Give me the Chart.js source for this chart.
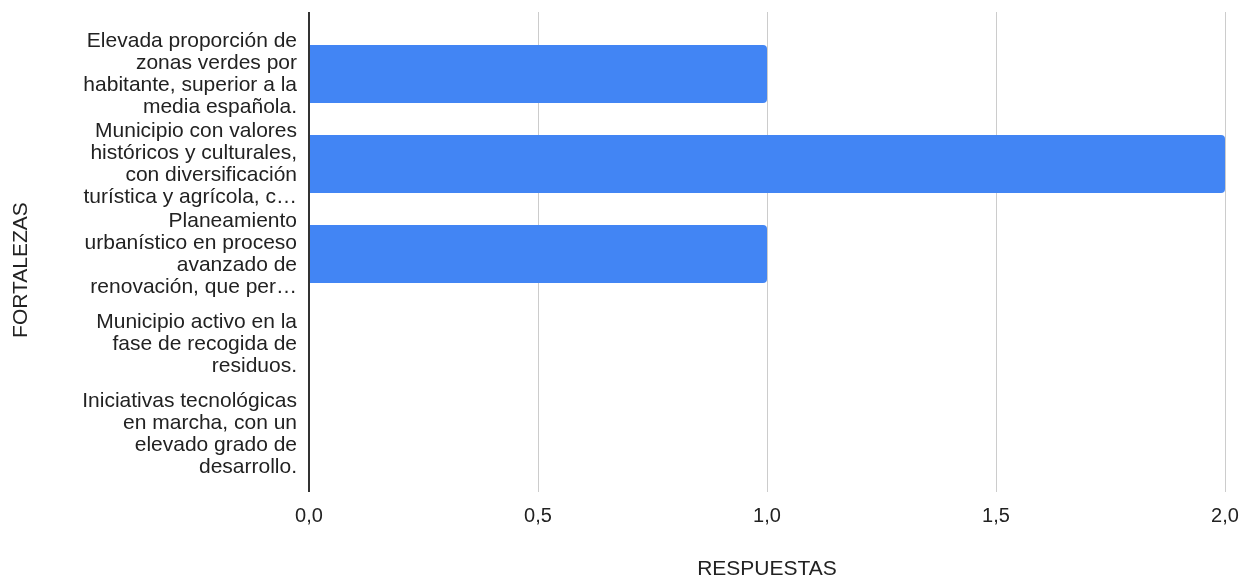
<!DOCTYPE html>
<html>
<head>
<meta charset="utf-8">
<script src="https://cdn.jsdelivr.net/npm/chart.js@4"></script>
<style>
html,body{margin:0;padding:0;background:#fff;}
#wrap{width:1244px;height:580px;position:relative;}
</style>
</head>
<body>
<div id="wrap"><canvas id="c" width="1244" height="580"></canvas></div>
<script>
const categories = [
  ["Elevada proporción de", "zonas verdes por", "habitante, superior a la", "media española."],
  ["Municipio con valores", "históricos y culturales,", "con diversificación", "turística y agrícola, c…"],
  ["Planeamiento", "urbanístico en proceso", "avanzado de", "renovación, que per…"],
  ["Municipio activo en la", "fase de recogida de", "residuos."],
  ["Iniciativas tecnológicas", "en marcha, con un", "elevado grado de", "desarrollo."]
];
const respuestas = [1, 2, 1, 0, 0];
const xTicks = [0, 0.5, 1, 1.5, 2];
const xTitle = "RESPUESTAS";
const yTitle = "FORTALEZAS";

const FONT = "'Liberation Sans', Arial, sans-serif";
const gridColor = (ctx) => (ctx.tick && ctx.tick.value === 0) ? '#333333' : '#cccccc';
const gridWidth = (ctx) => (ctx.tick && ctx.tick.value === 0) ? 2 : 1;

// draws the vertical axis title, centred slightly below the plot middle as in the reference
const yTitlePlugin = {
  id: 'yTitle',
  afterDraw(chart) {
    const ctx = chart.ctx;
    ctx.save();
    ctx.translate(21, 270);
    ctx.rotate(-Math.PI / 2);
    ctx.font = "21px " + FONT;
    ctx.fillStyle = '#222222';
    ctx.textAlign = 'center';
    ctx.textBaseline = 'middle';
    ctx.fillText(yTitle, 0, 0);
    ctx.restore();
  }
};

new Chart(document.getElementById('c'), {
  type: 'bar',
  data: {
    labels: categories,
    datasets: [{
      label: xTitle,
      data: respuestas,
      backgroundColor: '#4285F4',
      borderWidth: 0,
      borderRadius: {topLeft: 0, bottomLeft: 0, topRight: 4, bottomRight: 4},
      borderSkipped: false,
      barPercentage: 0.644,
      categoryPercentage: 1
    }]
  },
  plugins: [yTitlePlugin],
  options: {
    indexAxis: 'y',
    responsive: false,
    animation: false,
    devicePixelRatio: 1,
    layout: { padding: { top: 12, right: 19, left: 0, bottom: 0 } },
    plugins: { legend: { display: false }, tooltip: { enabled: false } },
    scales: {
      x: {
        type: 'linear',
        position: 'bottom',
        min: 0, max: 2,
        afterBuildTicks: (s) => { s.ticks = xTicks.map(v => ({ value: v })); },
        afterFit: (s) => { s.height = 101; s.paddingLeft = 0; s.paddingRight = 0; },
        border: { display: false },
        grid: { color: gridColor, lineWidth: gridWidth, drawTicks: true, tickLength: 13, tickColor: gridColor, tickWidth: gridWidth },
        ticks: {
          color: '#222222',
          font: { family: FONT, size: 20 },
          padding: 12,
          callback: (v) => Number(v).toFixed(1).replace('.', ',')
        },
        title: { display: true, text: xTitle, color: '#222222', font: { family: FONT, size: 21 }, padding: { top: 0, bottom: -2 } }
      },
      x2: {
        type: 'linear',
        position: 'top',
        min: 0, max: 2,
        afterBuildTicks: (s) => { s.ticks = xTicks.map(v => ({ value: v })); },
        afterFit: (s) => { s.height = 17; s.paddingLeft = 0; s.paddingRight = 0; },
        border: { display: false },
        grid: { drawOnChartArea: false, drawTicks: true, tickLength: 17, color: gridColor, lineWidth: gridWidth, tickColor: gridColor, tickWidth: gridWidth },
        ticks: { display: false }
      },
      y: {
        type: 'category',
        offset: true,
        afterFit: (s) => { s.width = 309; s.paddingTop = 0; s.paddingBottom = 0; },
        border: { display: false },
        grid: { display: false, drawTicks: false },
        ticks: {
          color: '#222222',
          font: { family: FONT, size: 21, lineHeight: '22px' },
          padding: 12,
          autoSkip: false
        },
        title: { display: false }
      }
    }
  }
});
</script>
</body>
</html>
